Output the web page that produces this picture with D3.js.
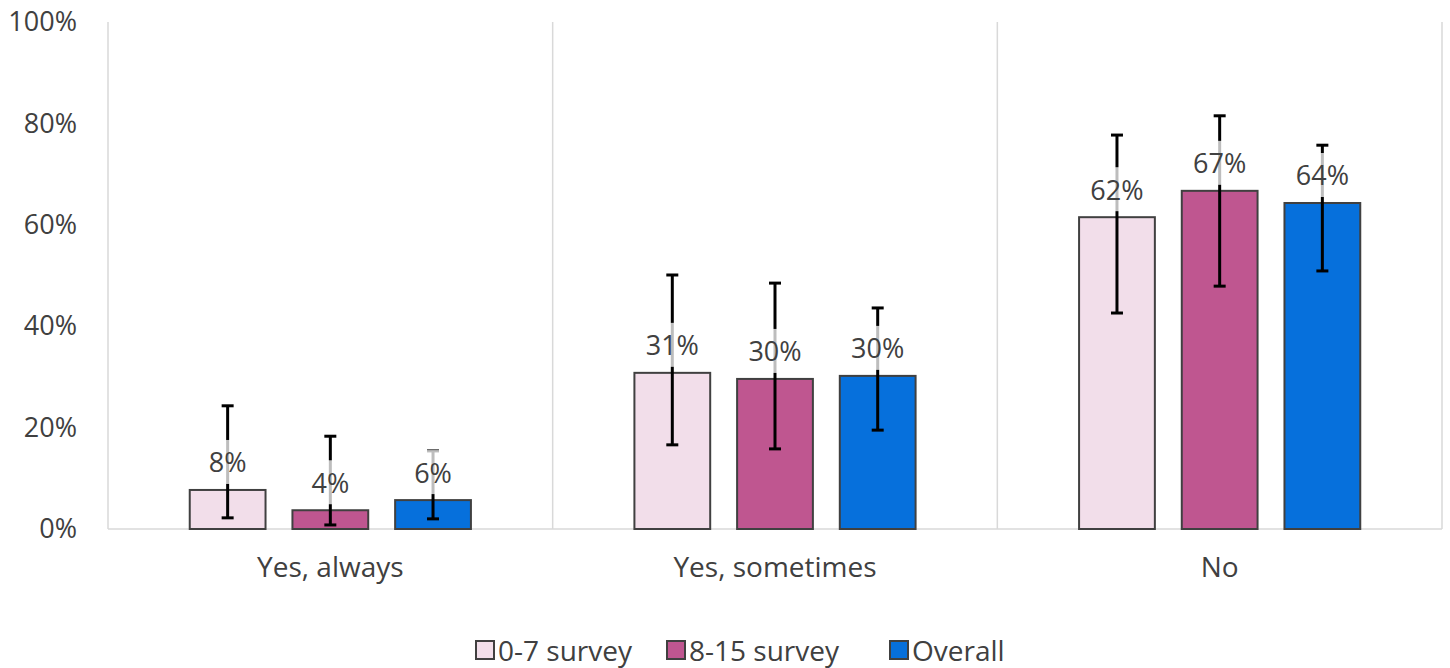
<!DOCTYPE html>
<html><head><meta charset="utf-8">
<script src="https://cdn.jsdelivr.net/npm/d3@7"></script>
<style>body{margin:0;background:#fff}svg{display:block}text{font-family:"Open Sans",sans-serif;fill:#404040}</style>
</head><body><svg id="c" width="1450" height="668"></svg>
<script>
const categories = ["Yes, always", "Yes, sometimes", "No"];
const seriesNames = ["0-7 survey", "8-15 survey", "Overall"];
const seriesColors = ["#F2DEEA", "#BF5690", "#0670DC"];
const values07 = [0.077, 0.308, 0.615];
const values815 = [0.037, 0.296, 0.667];
const valuesOverall = [0.057, 0.302, 0.643];
const low07 = [0.022, 0.166, 0.426];
const high07 = [0.243, 0.501, 0.777];
const low815 = [0.008, 0.158, 0.479];
const high815 = [0.183, 0.485, 0.815];
const lowOverall = [0.020, 0.195, 0.509];
const highOverall = [0.154, 0.436, 0.757];
const labels07 = ["8%", "31%", "62%"];
const labels815 = ["4%", "30%", "67%"];
const labelsOverall = ["6%", "30%", "64%"];
const yTicks = [0, 0.2, 0.4, 0.6, 0.8, 1.0];

const series = [
  {name: seriesNames[0], color: seriesColors[0], v: values07, lo: low07, hi: high07, lab: labels07},
  {name: seriesNames[1], color: seriesColors[1], v: values815, lo: low815, hi: high815, lab: labels815},
  {name: seriesNames[2], color: seriesColors[2], v: valuesOverall, lo: lowOverall, hi: highOverall, lab: labelsOverall}
];

const FS = 27;
const svg = d3.select("#c");
const L = 108, R = 1442, T = 22, B = 529;
const x0 = d3.scaleBand().domain(categories).range([L, R]).padding(0);
const x1 = d3.scaleBand().domain(seriesNames).range([0, x0.bandwidth()]).paddingInner(0.262).paddingOuter(0.796);
const y = d3.scaleLinear().domain([0, 1]).range([B, T]);

// vertical gridlines at category boundaries
const bounds = categories.map(c => x0(c)).concat([R]);
svg.append("g").selectAll("line").data(bounds).join("line")
  .attr("x1", d => d).attr("x2", d => d).attr("y1", T).attr("y2", B)
  .attr("stroke", "#d9d9d9").attr("stroke-width", 1.5);
svg.append("line").attr("x1", L).attr("x2", R).attr("y1", B).attr("y2", B)
  .attr("stroke", "#d9d9d9").attr("stroke-width", 1.5);

// y axis labels
const yAxis = d3.axisLeft(y).tickValues(yTicks).tickFormat(d3.format(".0%")).tickSize(0).tickPadding(31);
const ga = svg.append("g").attr("transform", `translate(${L},0)`).call(yAxis);
ga.select(".domain").remove();
ga.selectAll("text").attr("font-size", FS).attr("fill", "#404040").attr("font-family", "Open Sans");

// x axis labels
const xAxis = d3.axisBottom(x0).tickSize(0).tickPadding(28);
const gx = svg.append("g").attr("transform", `translate(0,${B})`).call(xAxis);
gx.select(".domain").remove();
gx.selectAll("text").attr("font-size", FS + 1).attr("fill", "#404040").attr("font-family", "Open Sans");

const groups = svg.append("g").selectAll("g").data(categories).join("g")
  .attr("transform", c => `translate(${x0(c)},0)`);

series.forEach(s => {
  const bw = x1.bandwidth();
  groups.each(function(c, i) {
    const g = d3.select(this);
    const bx = x1(s.name);
    const cx = bx + bw / 2;
    g.append("rect").attr("x", bx).attr("y", y(s.v[i])).attr("width", bw).attr("height", y(0) - y(s.v[i]))
      .attr("fill", s.color).attr("stroke", "#404040").attr("stroke-width", 2);
    g.append("line").attr("x1", cx).attr("x2", cx).attr("y1", y(s.hi[i])).attr("y2", y(s.lo[i]))
      .attr("stroke", "#000").attr("stroke-width", 3);
    [s.hi[i], s.lo[i]].forEach(v => g.append("line").attr("x1", cx - 6).attr("x2", cx + 6)
      .attr("y1", y(v)).attr("y2", y(v)).attr("stroke", "#000").attr("stroke-width", 3));
  });
});

// data labels with translucent background
series.forEach(s => {
  const bw = x1.bandwidth();
  groups.each(function(c, i) {
    const g = d3.select(this);
    const cx = x1(s.name) + bw / 2;
    const cy = y(s.v[i]) - 28;
    g.append("rect").attr("x", cx - 30).attr("y", cy - 22).attr("width", 60).attr("height", 44)
      .attr("fill", "#fff").attr("fill-opacity", 0.74);
    g.append("text").attr("x", cx).attr("y", cy).attr("text-anchor", "middle").attr("dominant-baseline", "central")
      .attr("font-size", FS).text(s.lab[i]);
  });
});

// legend
const legX = [476, 667, 890];
const lg = svg.append("g").selectAll("g").data(series).join("g")
  .attr("transform", (d, i) => `translate(${legX[i]},641)`);
lg.append("rect").attr("width", 18).attr("height", 18).attr("fill", d => d.color)
  .attr("stroke", "#404040").attr("stroke-width", 2);
lg.append("text").attr("x", 22).attr("y", 9).attr("dominant-baseline", "central")
  .attr("font-size", FS + 1).text(d => d.name);
</script></body></html>
